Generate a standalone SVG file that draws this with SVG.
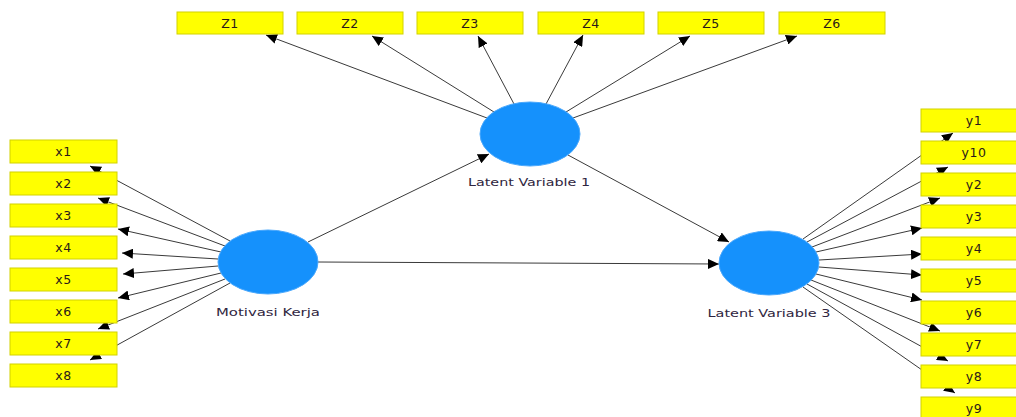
<svg xmlns="http://www.w3.org/2000/svg" width="1016" height="417" viewBox="0 0 1016 417">
<style>
.ind rect{fill:#ffff00;stroke:#d2d200;stroke-width:1}
.ind text{font-family:"DejaVu Sans",Verdana,sans-serif;font-size:12.5px;letter-spacing:0.5px;fill:#2a1a1a;text-anchor:middle}
.lat ellipse{fill:#1591fc;stroke:#4aa8fc;stroke-width:1}
.lat text{font-family:"DejaVu Sans",Verdana,sans-serif;font-size:11px;fill:#2f2540;text-anchor:middle}
.conn line{stroke:#3a3a3a;stroke-width:1;marker-end:url(#ah)}
</style>
<defs>
<marker id="ah" markerUnits="userSpaceOnUse" markerWidth="12" markerHeight="10" refX="11" refY="5" orient="auto">
<path d="M0,0 L11,5 L0,10 z" fill="#000"/>
</marker>
</defs>
<rect width="1016" height="417" fill="#fff"/>
<g id="connectors" class="conn">
<line x1="487" y1="118" x2="266" y2="35"/>
<line x1="494" y1="112" x2="372" y2="36"/>
<line x1="514" y1="104" x2="478" y2="36"/>
<line x1="546" y1="104" x2="583" y2="35"/>
<line x1="566" y1="112" x2="690" y2="36"/>
<line x1="573" y1="118" x2="797" y2="36"/>
<line x1="230" y1="241" x2="90" y2="166"/>
<line x1="225" y1="246" x2="98" y2="198"/>
<line x1="221" y1="252" x2="118" y2="229"/>
<line x1="218" y1="259" x2="122" y2="253"/>
<line x1="218" y1="266" x2="123" y2="274"/>
<line x1="221" y1="273" x2="118" y2="298"/>
<line x1="225" y1="279" x2="98" y2="329"/>
<line x1="230" y1="283" x2="90" y2="360"/>
<line x1="803" y1="239" x2="953" y2="133"/>
<line x1="807" y1="242" x2="948" y2="167"/>
<line x1="812" y1="247" x2="940" y2="198"/>
<line x1="816" y1="252" x2="922" y2="228"/>
<line x1="819" y1="260" x2="922" y2="254"/>
<line x1="819" y1="267" x2="922" y2="275"/>
<line x1="816" y1="274" x2="922" y2="300"/>
<line x1="811" y1="280" x2="940" y2="331"/>
<line x1="807" y1="284" x2="948" y2="361"/>
<line x1="803" y1="287" x2="955" y2="393"/>
<line x1="308" y1="242" x2="489" y2="154"/>
<line x1="318" y1="262" x2="719" y2="264"/>
<line x1="568" y1="155" x2="729" y2="242"/>
</g>
<g id="Z1" class="ind"><rect x="177" y="12" width="106" height="22"/><text x="230" y="28">Z1</text></g>
<g id="Z2" class="ind"><rect x="297" y="12" width="106" height="22"/><text x="350" y="28">Z2</text></g>
<g id="Z3" class="ind"><rect x="417" y="12" width="106" height="22"/><text x="470" y="28">Z3</text></g>
<g id="Z4" class="ind"><rect x="538" y="12" width="106" height="22"/><text x="591" y="28">Z4</text></g>
<g id="Z5" class="ind"><rect x="658" y="12" width="106" height="22"/><text x="711" y="28">Z5</text></g>
<g id="Z6" class="ind"><rect x="779" y="12" width="106" height="22"/><text x="832" y="28">Z6</text></g>
<g id="x1" class="ind"><rect x="10" y="140" width="107" height="23"/><text x="63.5" y="156">x1</text></g>
<g id="x2" class="ind"><rect x="10" y="172" width="107" height="23"/><text x="63.5" y="188">x2</text></g>
<g id="x3" class="ind"><rect x="10" y="204" width="107" height="23"/><text x="63.5" y="220">x3</text></g>
<g id="x4" class="ind"><rect x="10" y="236" width="107" height="23"/><text x="63.5" y="252">x4</text></g>
<g id="x5" class="ind"><rect x="10" y="268" width="107" height="23"/><text x="63.5" y="284">x5</text></g>
<g id="x6" class="ind"><rect x="10" y="300" width="107" height="23"/><text x="63.5" y="316">x6</text></g>
<g id="x7" class="ind"><rect x="10" y="332" width="107" height="23"/><text x="63.5" y="348">x7</text></g>
<g id="x8" class="ind"><rect x="10" y="364" width="107" height="23"/><text x="63.5" y="380">x8</text></g>
<g id="y1" class="ind"><rect x="921" y="109" width="107" height="23"/><text x="974" y="125">y1</text></g>
<g id="y10" class="ind"><rect x="921" y="141" width="107" height="23"/><text x="974" y="157">y10</text></g>
<g id="y2" class="ind"><rect x="921" y="173" width="107" height="23"/><text x="974" y="189">y2</text></g>
<g id="y3" class="ind"><rect x="921" y="205" width="107" height="23"/><text x="974" y="221">y3</text></g>
<g id="y4" class="ind"><rect x="921" y="237" width="107" height="23"/><text x="974" y="253">y4</text></g>
<g id="y5" class="ind"><rect x="921" y="269" width="107" height="23"/><text x="974" y="285">y5</text></g>
<g id="y6" class="ind"><rect x="921" y="301" width="107" height="23"/><text x="974" y="317">y6</text></g>
<g id="y7" class="ind"><rect x="921" y="333" width="107" height="23"/><text x="974" y="349">y7</text></g>
<g id="y8" class="ind"><rect x="921" y="365" width="107" height="23"/><text x="974" y="381">y8</text></g>
<g id="y9" class="ind"><rect x="921" y="397" width="107" height="23"/><text x="974" y="413">y9</text></g>
<g id="LV1" class="lat"><ellipse cx="530" cy="134" rx="50" ry="32"/><text x="529" y="186" textLength="122" lengthAdjust="spacingAndGlyphs">Latent Variable 1</text></g>
<g id="MK" class="lat"><ellipse cx="268" cy="262" rx="50" ry="32"/><text x="268" y="316" textLength="104" lengthAdjust="spacingAndGlyphs">Motivasi Kerja</text></g>
<g id="LV3" class="lat"><ellipse cx="769" cy="263" rx="50" ry="32"/><text x="769" y="317" textLength="123" lengthAdjust="spacingAndGlyphs">Latent Variable 3</text></g>
</svg>
